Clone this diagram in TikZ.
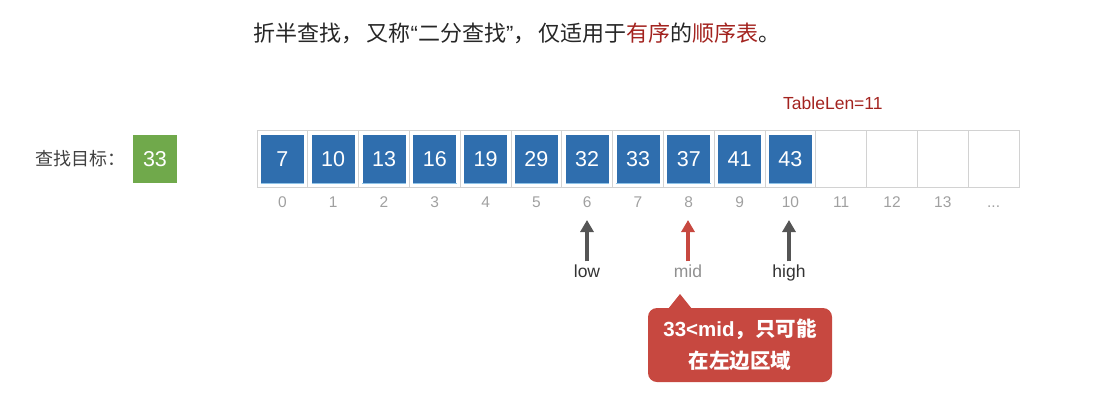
\documentclass[tikz,border=0pt]{standalone}
\usepackage{fontspec}
\setmainfont{Liberation Sans}
\newfontfamily\cjk{Noto Sans CJK SC}
\usetikzlibrary{arrows.meta,calc}
\definecolor{cellblue}{HTML}{2F6EAE}
\definecolor{celledge}{HTML}{8EC3E8}
\definecolor{tgreen}{HTML}{70A94B}
\definecolor{darkred}{HTML}{A3231F}
\definecolor{callred}{HTML}{C74840}
\definecolor{arrgray}{HTML}{555555}
\definecolor{idxgray}{HTML}{A0A0A0}
\definecolor{cellline}{HTML}{D2D2D2}
\tikzset{
  cellbox/.style={draw=cellline, line width=0.8pt, minimum width=50.8pt, minimum height=57.5pt, inner sep=0pt},
  valbox/.style={fill=cellblue, minimum width=43pt, minimum height=48pt, inner sep=0pt, text=white, font=\fontsize{21.5}{22}\selectfont},
  idx/.style={text=idxgray, font=\fontsize{15.5}{16}\selectfont, inner sep=0pt, text height=11.5pt, text depth=0pt},
  ptr/.style={line width=4pt, -{Triangle[width=13pt,length=12pt]}},
  ptrlabel/.style={font=\fontsize{17.5}{18}\selectfont, inner sep=0pt, text height=13pt, text depth=4pt}
}
\begin{document}
\begin{tikzpicture}[x=1pt,y=-1pt]
\useasboundingbox (0,0) rectangle (1095,405);
% title
\node[font=\fontsize{22}{23}\selectfont, text=black!85, inner sep=0pt] (title) at (517,33)
  {\cjk 折半查找，\,又称{\rmfamily“}二分查找{\rmfamily”}，\,仅适用于\textcolor{darkred}{有序}的\textcolor{darkred}{顺序表}。};
% target
\node[font=\fontsize{18}{19}\selectfont\cjk, text=black!75, inner sep=0pt, anchor=west] (tlabel) at (35,159) {查找目标：};
\node[fill=tgreen, minimum width=44pt, minimum height=48pt, inner sep=0pt, text=white, font=\fontsize{21.5}{22}\selectfont] (target) at (155,159) {33};
% TableLen
\node[text=darkred, font=\fontsize{17.5}{18}\selectfont, inner sep=0pt, anchor=west] (tlen) at (783,103) {TableLen=11};
% cells
\foreach \i in {0,...,14} {
  \node[cellbox] (c\i) at ({257+25.4+\i*50.8},159) {};
}
\foreach \v [count=\k from 0] in {7,10,13,16,19,29,32,33,37,41,43} {
  \node[valbox] (b\k) at (c\k.center) {\v};
  \draw[celledge, line width=0.8pt] (b\k.south west) -- (b\k.south east);
}
\foreach \i in {0,...,13} {
  \node[idx] (i\i) at ($(c\i.center)+(0,43)$) {\i};
}
\node[idx] (i14) at ($(c14.center)+(0,43)$) {...};
% pointers
\node[ptrlabel, text=black!80] (low) at (587,273) {low};
\node[ptrlabel, text=idxgray!90!black] (mid) at (688,273) {mid};
\node[ptrlabel, text=black!80] (high) at (789,273) {high};
\coordinate (lowtip) at (587,220);
\coordinate (midtip) at (688,220);
\coordinate (hightip) at (789,220);
\draw[ptr, arrgray] ($(low.north)+(0,-3)$) -- (lowtip);
\draw[ptr, callred] ($(mid.north)+(0,-3)$) -- (midtip);
\draw[ptr, arrgray] ($(high.north)+(0,-3)$) -- (hightip);
% callout
\node[fill=callred, rounded corners=9pt, minimum width=184pt, minimum height=74pt, inner sep=0pt, text=white,
      font=\fontsize{20.5}{32}\selectfont\bfseries, align=center] (call) at (740,345)
  {33<mid{\cjk ，只可能}\\{\cjk 在左边区域}};
\coordinate (calltip) at (680,294);
\fill[callred] (calltip) -- (668,309) -- (692,309) -- cycle;
\end{tikzpicture}
\end{document}
